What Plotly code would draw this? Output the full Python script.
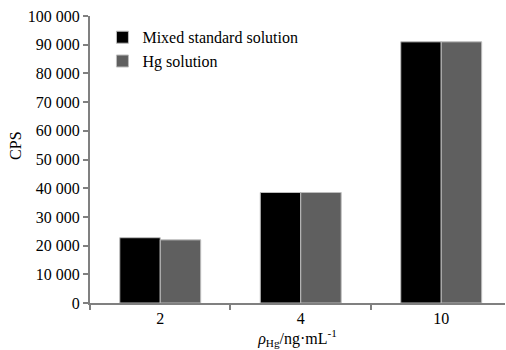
import plotly.graph_objects as go

categories = ["2", "4", "10"]
mixed = [22750, 38500, 91000]
hg = [22000, 38500, 91000]
ytick_vals = [0, 10000, 20000, 30000, 40000, 50000, 60000, 70000, 80000, 90000, 100000]
ytick_text = ["0", "10 000", "20 000", "30 000", "40 000", "50 000", "60 000",
              "70 000", "80 000", "90 000", "100 000"]

font = dict(family="Liberation Serif, Times New Roman, serif", size=16, color="#000000")

fig = go.Figure()
fig.add_trace(go.Bar(x=categories, y=mixed, name="Mixed standard solution",
                     marker=dict(color="#000000", line=dict(color="#bdbdbd", width=1))))
fig.add_trace(go.Bar(x=categories, y=hg, name="Hg solution",
                     marker=dict(color="#5f5f5f", line=dict(color="#bdbdbd", width=1))))

fig.update_layout(
    width=506, height=350,
    margin=dict(l=90, r=1, t=16, b=47),
    paper_bgcolor="white", plot_bgcolor="white",
    font=font,
    barmode="group", bargap=0.424, bargroupgap=0,
    showlegend=True,
    legend=dict(x=0.03, y=0.985, xanchor="left", yanchor="top",
                bgcolor="rgba(0,0,0,0)", font=font, itemwidth=30,
                tracegroupgap=0),
    annotations=[dict(text="CPS", textangle=-90, xref="paper", yref="paper",
                      x=-0.181, y=0.547, xanchor="center", yanchor="middle",
                      showarrow=False, font=font)],
)
fig.update_xaxes(
    type="category", range=[-0.5, 2.454],
    showline=True, linecolor="#808080", linewidth=2,
    ticks="outside", tickson="boundaries", ticklen=5, tickcolor="#808080", tickwidth=2,
    showgrid=False, zeroline=False,
    title=dict(text="<i>ρ</i><sub>Hg</sub>/ng·mL<sup>-1</sup>", font=font, standoff=4),
)
fig.update_yaxes(
    range=[0, 100000],
    tickvals=ytick_vals, ticktext=ytick_text,
    showline=True, linecolor="#808080", linewidth=2,
    ticks="outside", ticklen=5, tickcolor="#808080", tickwidth=2,
    showgrid=False, zeroline=False,
)

fig.write_html("out.html")
